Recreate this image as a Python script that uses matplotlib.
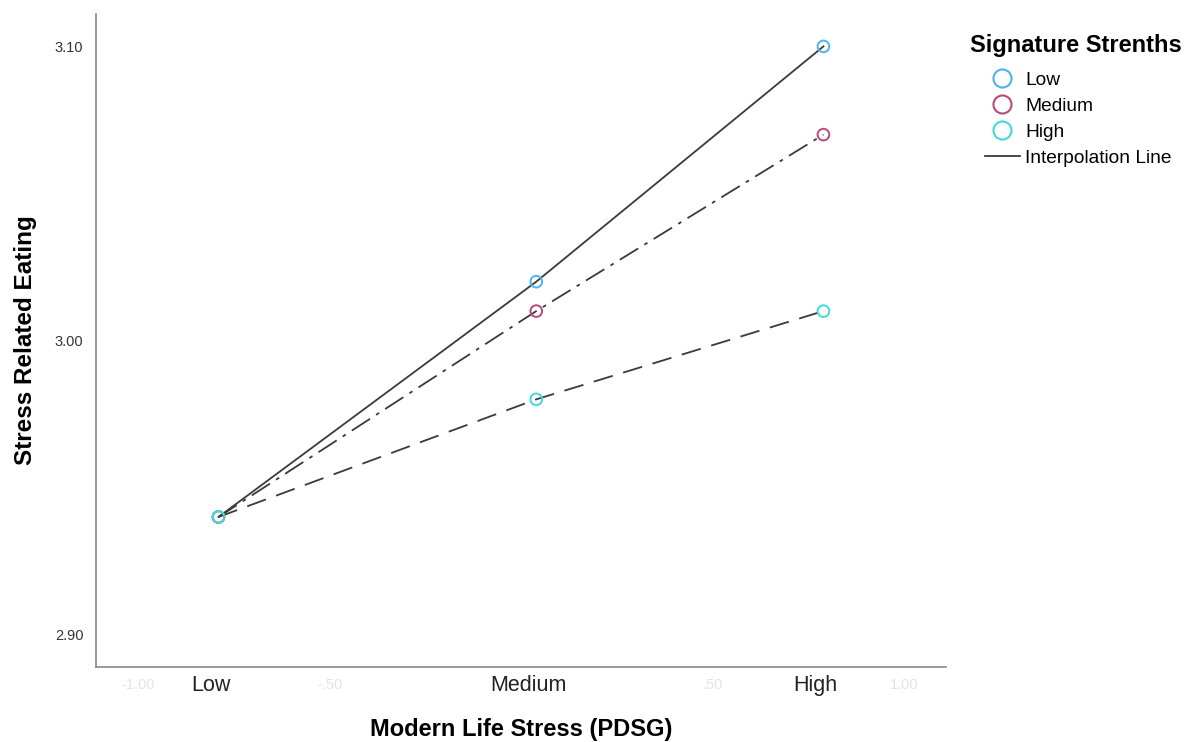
import numpy as np
import matplotlib.pyplot as plt
from matplotlib.lines import Line2D

plt.rcParams['font.family'] = ['Liberation Sans', 'DejaVu Sans']

# data
x_pos = [-0.79, 0.04, 0.79]
x_names = ['Low', 'Medium', 'High']
groups = ['Low', 'Medium', 'High']
y_low = [2.94, 3.02, 3.10]
y_medium = [2.94, 3.01, 3.07]
y_high = [2.94, 2.98, 3.01]
colors = ['#4cb4ec', '#b84a73', '#44d8d8']
styles = ['-', (0, (12, 4, 2, 4)), (0, (11, 6))]

fig = plt.figure(figsize=(11.95, 7.42), dpi=100)
ax = fig.add_axes([0.0803, 0.1011, 0.7113, 0.88])

series = [y_low, y_medium, y_high]
for ys, col, ls in zip(series, colors, styles):
    ax.plot(x_pos, ys, color='#3a3a3a', lw=1.3, linestyle=ls, zorder=2)
for ys, col in zip(series, colors):
    ax.scatter(x_pos, ys, s=70, facecolors='none', edgecolors=col, linewidths=1.4, zorder=3)

ax.set_xlim(-1.11, 1.11)
ax.set_ylim(2.889, 3.111)
ax.set_yticks([2.90, 3.00, 3.10])
ax.set_yticklabels(['2.90', '3.00', '3.10'], fontsize=10.5, color='#333333')
ax.set_xticks([-1.0, -0.5, 0.5, 1.0])
ax.set_xticklabels(['-1.00', '-.50', '.50', '1.00'], fontsize=10.5, color='#e4e4e4')
ax.tick_params(length=0, pad=8)
ax.tick_params(axis='y', pad=9)

for xp, nm in zip(x_pos, x_names):
    ax.text(xp - 0.02, -0.013, nm, transform=ax.get_xaxis_transform(),
            ha='center', va='top', fontsize=15.5, color='#222222')

for s in ['top', 'right']:
    ax.spines[s].set_visible(False)
for s in ['left', 'bottom']:
    ax.spines[s].set_color('#888888')
    ax.spines[s].set_linewidth(1.2)

ax.set_xlabel('Modern Life Stress (PDSG)', fontsize=17, fontweight='bold', labelpad=19)
ax.set_ylabel('Stress Related Eating', fontsize=17.5, fontweight='bold', labelpad=13)

fig.text(0.8117, 0.939, 'Signature Strenths', fontsize=17, fontweight='bold', va='center')

handles = [Line2D([], [], marker='o', ls='none', markersize=13, markerfacecolor='none',
                  markeredgecolor=c, markeredgewidth=1.5) for c in colors]
handles.append(Line2D([], [], color='#3a3a3a', lw=1.3))
leg = fig.legend(handles, groups + ['Interpolation Line'], loc='upper left',
                 bbox_to_anchor=(0.818, 0.914), frameon=False, fontsize=13.8,
                 handlelength=1.8, handletextpad=0.3,
                 labelspacing=0.45, borderaxespad=0)

fig.savefig('out.png', dpi=100)
